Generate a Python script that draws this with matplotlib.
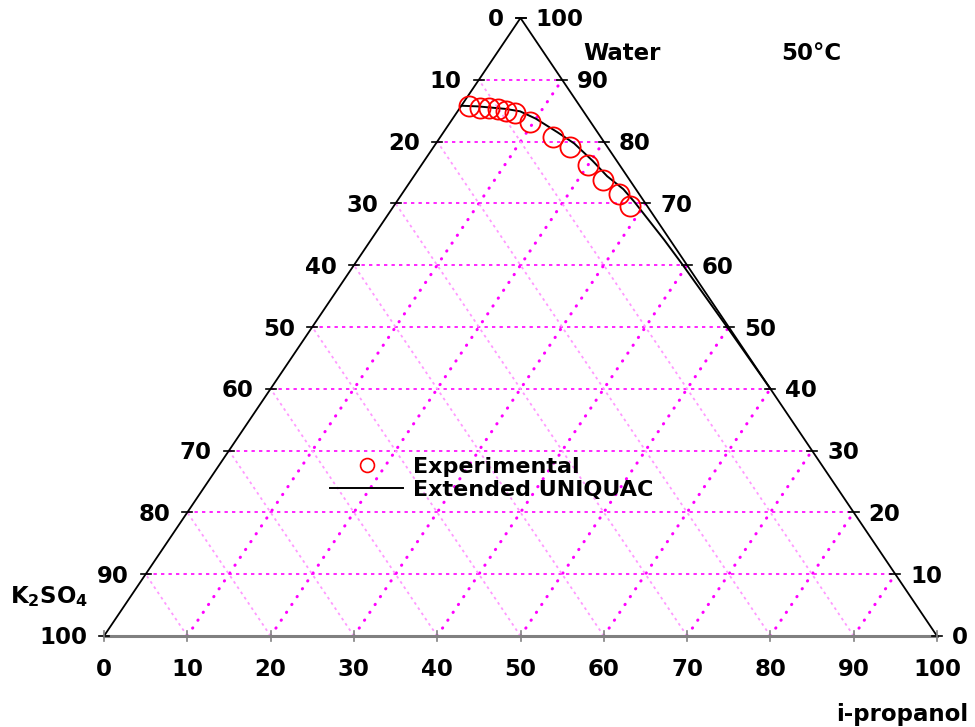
import numpy as np
import matplotlib.pyplot as plt
from matplotlib.lines import Line2D

# ternary data: i-propanol (mass %), water (mass %)
exp_propanol = [1.0, 2.4, 3.5, 4.6, 5.8, 7.0, 9.5, 13.5, 16.4, 20.0, 23.0, 26.0, 28.4]
exp_water = [85.7, 85.5, 85.4, 85.3, 85.0, 84.6, 83.2, 80.8, 79.1, 76.2, 73.8, 71.6, 69.5]

model_propanol = [0.0, 2.0, 5.5, 7.5, 10.0, 13.7, 16.6, 20.2, 23.2, 26.2, 28.6, 35.2, 39.5, 44.65, 49.8, 54.9, 60.0]
model_water = [85.8, 85.7, 85.3, 84.9, 83.7, 81.5, 79.7, 76.9, 74.4, 72.3, 70.2, 64.1, 60.0, 55.0, 50.0, 45.0, 40.0]

tick_values = list(range(0, 101, 10))
grid_values = list(range(10, 100, 10))


def tern(p, w):
    p = np.asarray(p, dtype=float)
    w = np.asarray(w, dtype=float)
    return p + w / 2.0, w


PX_X = 8.33   # pixels per unit along x
PX_Y = 6.18   # pixels per unit along y

fig = plt.figure(figsize=(9.75, 7.27), dpi=100)
ax = fig.add_axes([0, 0, 1, 1])
ax.set_xlim(-104 / PX_X, (975 - 104) / PX_X)
ax.set_ylim(-(727 - 636) / PX_Y, 636 / PX_Y)
ax.axis('off')

magenta = '#ff00ff'
pink = '#ff99ff'

# grid: constant water (horizontal)
for g in grid_values:
    x, y = tern([0, 100 - g], [g, g])
    ax.plot(x, y, color=magenta, lw=1.2, ls=(0, (2, 2.5)), zorder=1)
# grid: constant i-propanol (thick dots)
for g in grid_values:
    x, y = tern([g, g], [0, 100 - g])
    ax.plot(x, y, color=magenta, lw=2.2, ls=(0, (0.1, 3)),
            dash_capstyle='round', zorder=1)
# grid: constant K2SO4 (light pink)
for g in grid_values:
    x, y = tern([100 - g, 0], [0, 100 - g])
    ax.plot(x, y, color=pink, lw=1.3, ls=(0, (1.5, 2)), zorder=1)

# triangle edges
x, y = tern([0, 0, 100], [0, 100, 0])
ax.plot(x, y, color='black', lw=1.3, zorder=2)
x, y = tern([0, 100], [0, 0])
ax.plot(x, y, color='#808080', lw=2.2, zorder=2)

fs = 16.5
tx = 5 / PX_X
ty = 5 / PX_Y
for t in tick_values:
    # left edge (K2SO4 side)
    lx, ly = tern(0, t)
    ax.plot([lx - tx, lx + tx], [ly, ly], color='black', lw=1.2, zorder=2)
    ax.text(lx - 17 / PX_X, ly - 2 / PX_Y, str(100 - t), ha='right', va='center',
            fontsize=fs, fontweight='bold')
    # right edge (water)
    rx, ry = tern(100 - t, t)
    ax.plot([rx - tx, rx + tx], [ry, ry], color='black', lw=1.2, zorder=2)
    ax.text(rx + 15 / PX_X, ry - 2 / PX_Y, str(t), ha='left', va='center',
            fontsize=fs, fontweight='bold')
    # bottom (i-propanol)
    bx, by = tern(t, 0)
    ax.plot([bx, bx], [by - ty, by + ty], color='#808080', lw=1.2, zorder=2)
    ax.text(bx, -33 / PX_Y, str(t), ha='center', va='center',
            fontsize=fs, fontweight='bold')

# model curve
x, y = tern(model_propanol, model_water)
ax.plot(x, y, color='black', lw=1.4, zorder=3)

# experimental points
x, y = tern(exp_propanol, exp_water)
ax.plot(x, y, 'o', mfc='none', mec='red', mew=1.3, ms=14.5, zorder=4)

# axis titles
ax.text((583 - 104) / PX_X, (636 - 54) / PX_Y, 'Water', ha='left', va='center',
        fontsize=fs, fontweight='bold')
ax.text((781 - 104) / PX_X, (636 - 54) / PX_Y, '50°C', ha='left', va='center',
        fontsize=fs, fontweight='bold')
ax.text((10 - 104) / PX_X, (636 - 597) / PX_Y, r'K$_\mathbf{2}$SO$_\mathbf{4}$',
        ha='left', va='center', fontsize=fs, fontweight='bold')
ax.text((836 - 104) / PX_X, (636 - 714) / PX_Y, 'i-propanol', ha='left',
        va='center', fontsize=fs, fontweight='bold')

handles = [
    Line2D([], [], ls='none', marker='o', mfc='none', mec='red', mew=1.2, ms=10),
    Line2D([], [], color='black', lw=1.4),
]
fig.legend(handles, ['Experimental', 'Extended UNIQUAC'],
           loc='upper left', bbox_to_anchor=(330 / 975, 1 - 457 / 727),
           frameon=False, borderpad=0, borderaxespad=0,
           handlelength=3.3, handletextpad=0.45, labelspacing=0.14,
           prop={'weight': 'bold', 'size': 16})

fig.savefig('out.png', dpi=100)
